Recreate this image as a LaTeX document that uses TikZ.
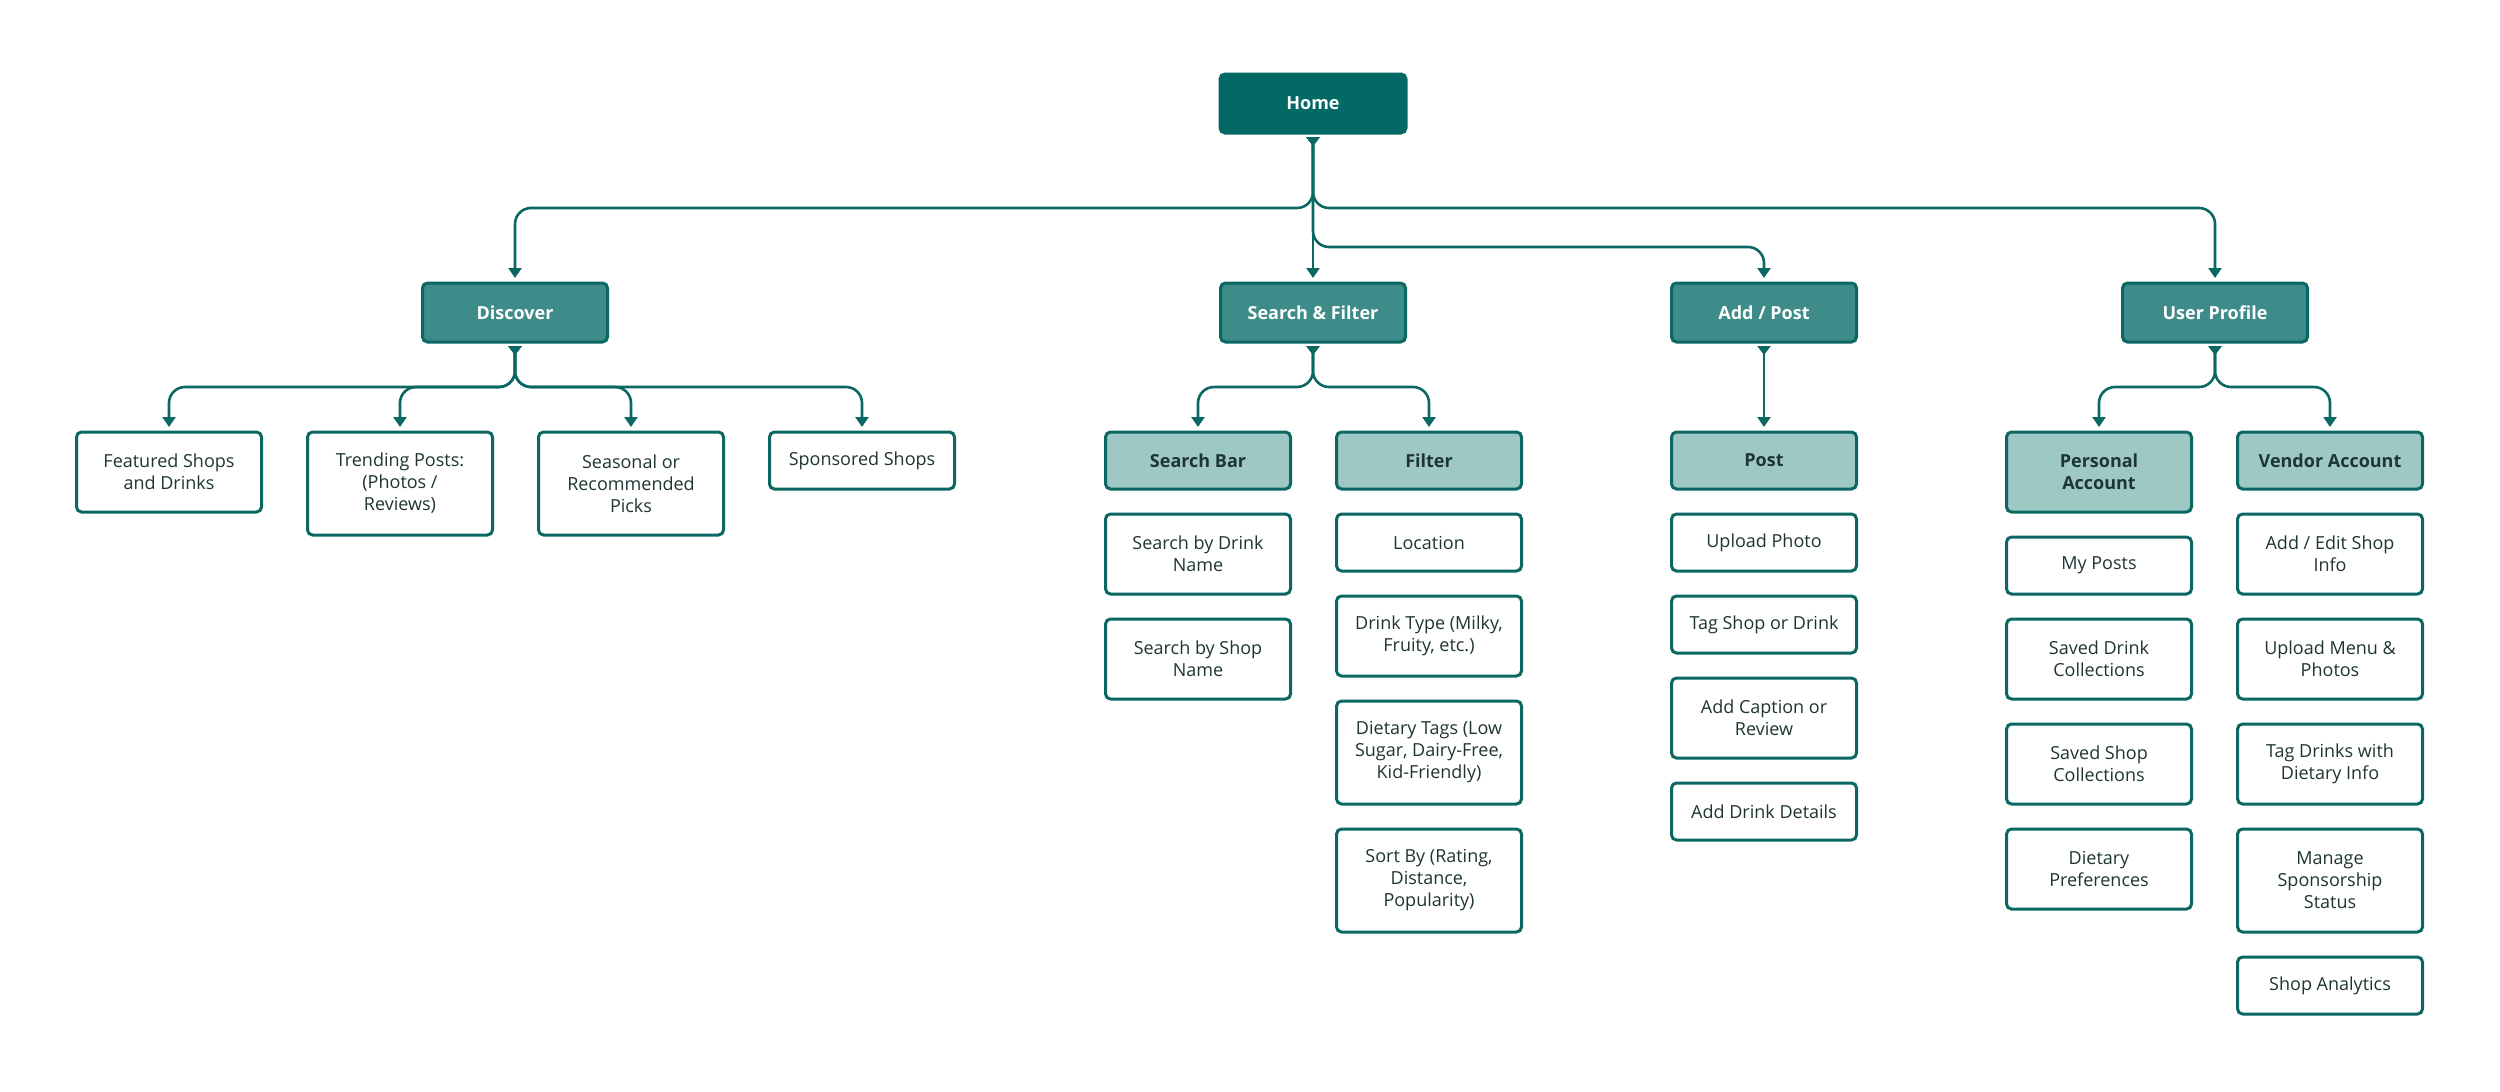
\documentclass[tikz,border=0pt]{standalone}
\usepackage{fontspec}
\setmainfont{Open Sans}
\usetikzlibrary{arrows.meta,positioning}
\definecolor{homec}{HTML}{036965}
\definecolor{midc}{HTML}{3E8C89}
\definecolor{lightc}{HTML}{9EC8C4}
\definecolor{bordc}{HTML}{0B6762}
\definecolor{txtc}{HTML}{1E3534}
\begin{document}
\begin{tikzpicture}[x=1pt,y=-1pt,
  box/.style={rounded corners=5pt, line width=3pt, draw=bordc, minimum width=185pt,
    align=center, font=\fontsize{18}{22}\selectfont, outer sep=0pt, inner sep=4pt},
  homebox/.style={box, fill=homec, draw=homec, text=white, font=\fontsize{18}{22}\selectfont\bfseries, minimum width=186pt, minimum height=59pt},
  topbox/.style={box, fill=midc, text=white, font=\fontsize{18}{22}\selectfont\bfseries, minimum height=59pt},
  subbox/.style={box, fill=lightc, text=txtc, font=\fontsize{18}{22}\selectfont\bfseries},
  leaf/.style={box, fill=white, text=txtc},
  hone/.style={minimum height=57pt},
  htwo/.style={minimum height=80pt},
  hthree/.style={minimum height=103pt},
  conn/.style={draw=bordc, line width=2.6pt, rounded corners=16pt,
    {Triangle[reversed,width=13pt,length=9pt]}-{Triangle[width=13pt,length=10pt]},
    shorten <=4pt, shorten >=5pt},
  node distance=25pt
]
\useasboundingbox (0,0) rectangle (2500,1092);

% Home
\node[homebox] (home) at (1313,103.5) {Home};

% Level 1
\node[topbox] (disc) at (515,312.5) {Discover};
\node[topbox] (sf) at (1313,312.5) {Search \& Filter};
\node[topbox] (add) at (1764,312.5) {Add / Post};
\node[topbox] (up) at (2215,312.5) {User Profile};

% Discover children
\node[leaf,htwo,anchor=north] (feat) at (169,432) {Featured Shops\\and Drinks};
\node[leaf,hthree,anchor=north] (trend) at (400,432) {Trending Posts:\\(Photos /\\Reviews)};
\node[leaf,hthree,anchor=north] (seas) at (631,432) {Seasonal or\\Recommended\\Picks};
\node[leaf,hone,anchor=north] (spon) at (862,432) {Sponsored Shops};

% Search & Filter children
\node[subbox,hone,anchor=north] (sb) at (1198,432) {Search Bar};
\node[subbox,hone,anchor=north] (filt) at (1429,432) {Filter};
\node[leaf,htwo,below=of sb] (sbd) {Search by Drink\\Name};
\node[leaf,htwo,below=of sbd] (sbs) {Search by Shop\\Name};
\node[leaf,hone,below=of filt] (loc) {Location};
\node[leaf,htwo,below=of loc] (dtype) {Drink Type (Milky,\\Fruity, etc.)};
\node[leaf,hthree,below=of dtype] (diet) {Dietary Tags (Low\\Sugar, Dairy-Free,\\Kid-Friendly)};
\node[leaf,hthree,below=of diet] (sort) {Sort By (Rating,\\Distance,\\Popularity)};

% Add / Post children
\node[subbox,hone,anchor=north] (post) at (1764,432) {Post};
\node[leaf,hone,below=of post] (upl) {Upload Photo};
\node[leaf,hone,below=of upl] (tag) {Tag Shop or Drink};
\node[leaf,htwo,below=of tag] (cap) {Add Caption or\\Review};
\node[leaf,hone,below=of cap] (det) {Add Drink Details};

% User Profile children
\node[subbox,htwo,anchor=north] (pers) at (2099,432) {Personal\\Account};
\node[subbox,hone,anchor=north] (vend) at (2330,432) {Vendor Account};
\node[leaf,hone,below=of pers] (myp) {My Posts};
\node[leaf,htwo,below=of myp] (sdc) {Saved Drink\\Collections};
\node[leaf,htwo,below=of sdc] (ssc) {Saved Shop\\Collections};
\node[leaf,htwo,below=of ssc] (dpref) {Dietary\\Preferences};
\node[leaf,htwo,below=of vend] (edit) {Add / Edit Shop\\Info};
\node[leaf,htwo,below=of edit] (menu) {Upload Menu \&\\Photos};
\node[leaf,htwo,below=of menu] (tagd) {Tag Drinks with\\Dietary Info};
\node[leaf,hthree,below=of tagd] (spons) {Manage\\Sponsorship\\Status};
\node[leaf,hone,below=of spons] (ana) {Shop Analytics};

% bus coordinates
\coordinate (hb1) at (1313,208);
\coordinate (hb2) at (1313,247);
\coordinate (db) at (515,387);
\coordinate (sfb) at (1313,387);
\coordinate (upb) at (2215,387);

% connectors from Home
\draw[conn] (home.south) -- (hb1) -| (disc.north);
\draw[conn] (home.south) -- (hb1) -| (up.north);
\draw[conn] (home.south) -- (sf.north);
\draw[conn] (home.south) -- (hb2) -| (add.north);

% Discover
\draw[conn] (disc.south) -- (db) -| (feat.north);
\draw[conn] (disc.south) -- (db) -| (trend.north);
\draw[conn] (disc.south) -- (db) -| (seas.north);
\draw[conn] (disc.south) -- (db) -| (spon.north);

% Search & Filter
\draw[conn] (sf.south) -- (sfb) -| (sb.north);
\draw[conn] (sf.south) -- (sfb) -| (filt.north);

% Add / Post
\draw[conn] (add.south) -- (post.north);

% User Profile
\draw[conn] (up.south) -- (upb) -| (pers.north);
\draw[conn] (up.south) -- (upb) -| (vend.north);
\end{tikzpicture}
\end{document}
